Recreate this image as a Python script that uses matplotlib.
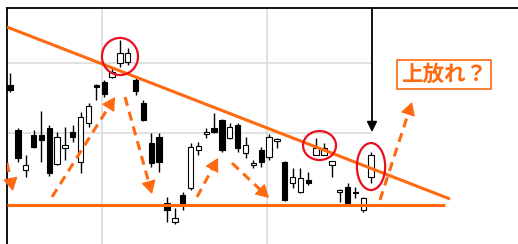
#
# 下降三角形 (ローソク足) と上放れの予想
#

import numpy as np
import matplotlib.pyplot as plt
from matplotlib.patches import Ellipse

plt.rcParams['font.family'] = ['Noto Sans CJK JP', 'DejaVu Sans']

#===================
# ローソク足のデータ
#===================
opens  = [1069, 1004, 947, 997, 997, 1007, 956, 979, 1001, 959, 1014, 1069, 1073, 1080, 1100, 1101,
          1076, 1043, 986, 994, 900, 873, 911, 921, 976, 999, 1007, 1019, 993, 1011, 971, 955,
          976, 966, 989, 959, 929, 916, 933, 969, 969, 954, 916, 923, 915, 890, 937]
highs  = [1086, 1007, 969, 1004, 1031, 1011, 1001, 1009, 1011, 1030, 1043, 1070, 1076, 1094, 1133, 1121,
          1079, 1047, 1000, 1000, 909, 893, 916, 986, 987, 1007, 1029, 1020, 1014, 1014, 994, 961,
          980, 999, 993, 960, 950, 950, 944, 993, 986, 960, 920, 929, 923, 909, 973]
lows   = [1059, 959, 937, 979, 959, 939, 954, 961, 987, 943, 1009, 1047, 1051, 1079, 1094, 1097,
          1054, 1017, 951, 944, 873, 870, 890, 919, 969, 993, 1000, 973, 991, 973, 964, 950,
          951, 961, 979, 903, 921, 914, 926, 968, 968, 937, 901, 899, 907, 887, 929]
closes = [1061, 964, 954, 980, 990, 943, 994, 983, 994, 1023, 1039, 1066, 1056, 1087, 1114, 1114,
          1060, 1019, 957, 959, 890, 879, 897, 980, 981, 1001, 1001, 976, 1009, 979, 983, 956,
          959, 994, 991, 904, 937, 936, 929, 979, 979, 960, 919, 900, 914, 907, 969]

# 抵抗線と支持線 (日の番号, 価格)
resist_x = [-0.38, 56.05]
resist_y = [1151.4, 905.7]
support_x = [-0.38, 55.4]
support_y = [897.1, 897.1]

# 波の矢印 (始点, 終点)
waves = [((-0.38, 957.1), (0.38, 917.1)),
         ((5.35, 908.6), (13.38, 1051.4)),
         ((14.65, 1051.4), (18.09, 912.9)),
         ((23.82, 908.6), (26.5, 964.3)),
         ((28.28, 957.1), (33.0, 907.1)),
         ((47.13, 904.3), (51.21, 1044.3))]

# 赤丸 (中心, 幅, 高さ)
marks = [((14.01, 1109.3), 4.6, 53.0),
         ((39.43, 982.1), 4.2, 41.4),
         ((45.99, 952.1), 3.6, 67.1)]

orange = '#ff6a10'
red = '#e8101c'

fig = plt.figure(figsize=(5.18, 2.44), dpi=100)
ax = fig.add_axes([7/518, 0, 511/518, 236/244])
ax.set_xlim(-0.382, 64.71)
ax.set_ylim(841.43, 1178.57)
ax.set_xticks([])
ax.set_yticks([])
for s in ['right', 'bottom']:
    ax.spines[s].set_visible(False)
for s in ['left', 'top']:
    ax.spines[s].set_linewidth(1.3)

# 目盛り線
ax.hlines([1000, 1100], -0.382, 46.1, color='#d9d9d9', lw=1.1, zorder=0)
ax.vlines([11.72, 32.74], 841.43, 1178.57, color='#d9d9d9', lw=1.1, zorder=0)

# ローソク足
x = np.arange(len(opens))
o = np.array(opens, dtype=float)
c = np.array(closes, dtype=float)
ax.vlines(x, lows, highs, color='black', lw=1.0, zorder=2)
body = np.maximum(np.abs(c - o), 1.5)
cols = ['white' if cc >= oo else 'black' for oo, cc in zip(o, c)]
ax.bar(x, body, bottom=np.minimum(o, c), width=0.68, color=cols,
       edgecolor='black', linewidth=0.8, zorder=3)

# 三角形の線
ax.plot(resist_x, resist_y, color=orange, lw=2.2, solid_capstyle='butt', zorder=4)
ax.plot(support_x, support_y, color=orange, lw=2.2, solid_capstyle='butt', zorder=4)

# 破線の矢印
for p0, p1 in waves:
    a = ax.transData.transform(p0)
    b = ax.transData.transform(p1)
    v = (b - a) / np.hypot(*(b - a))
    end = ax.transData.inverted().transform(b - v * 8)
    ax.plot([p0[0], end[0]], [p0[1], end[1]], color=orange, lw=2.2,
            dashes=(3, 2), zorder=4)
    ax.annotate('', xy=p1, xytext=tuple(-v * 12), textcoords='offset pixels',
                arrowprops=dict(arrowstyle='-|>,head_length=0.8,head_width=0.45',
                                color=orange, lw=1, shrinkA=0, shrinkB=0), zorder=4)

# 赤丸
for cen, w, h in marks:
    ax.add_patch(Ellipse(cen, w, h, fill=False, ec=red, lw=1.6, zorder=5))

# 黒い矢印
ax.annotate('', xy=(46.11, 1001.4), xytext=(46.11, 1178.6),
            arrowprops=dict(arrowstyle='-|>,head_length=0.6,head_width=0.3',
                            color='black', lw=1.3, shrinkA=0, shrinkB=0))

ax.text(55.29, 1083.6, '上放れ？', ha='center', va='center', fontsize=15.5,
        fontweight='bold', color=orange,
        bbox=dict(boxstyle='square,pad=0.2', fc='white', ec=orange, lw=1.2))

fig.savefig('out.png', dpi=100)
